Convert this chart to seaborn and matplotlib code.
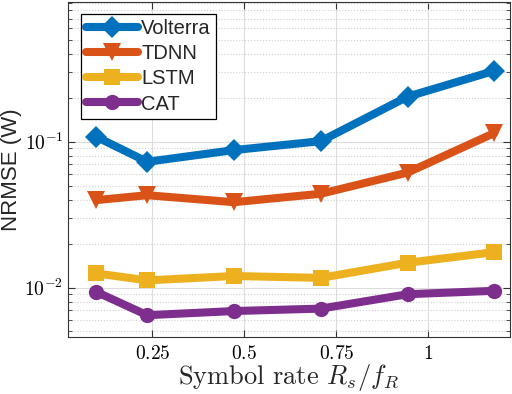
import numpy as np
import pandas as pd
import matplotlib
matplotlib.use("Agg")
import matplotlib.pyplot as plt
import seaborn as sns
from matplotlib.ticker import FixedLocator, FixedFormatter, LogLocator, NullFormatter

# Data
symbol_rate = [0.098, 0.236, 0.472, 0.708, 0.944, 1.18]
volterra = [0.108, 0.0729, 0.0877, 0.101, 0.204, 0.307]
tdnn = [0.0398, 0.0430, 0.0385, 0.0440, 0.0615, 0.115]
lstm = [0.0125, 0.0112, 0.0120, 0.01165, 0.0148, 0.0175]
cat = [0.00933, 0.00646, 0.0069, 0.00717, 0.0090, 0.0095]
models = ["Volterra", "TDNN", "LSTM", "CAT"]
xticks = [0.25, 0.5, 0.75, 1.0]
xtick_labels = ["0.25", "0.5", "0.75", "1"]

colors = {"Volterra": "#0072BD", "TDNN": "#D95319", "LSTM": "#EDB120", "CAT": "#7E2F8E"}
markers = {"Volterra": "D", "TDNN": "v", "LSTM": "s", "CAT": "o"}
msizes = {"Volterra": 11, "TDNN": 13, "LSTM": 11, "CAT": 11}

rows = []
for name, vals in zip(models, [volterra, tdnn, lstm, cat]):
    for x, v in zip(symbol_rate, vals):
        rows.append({"x": x, "y": v, "model": name})
df = pd.DataFrame(rows)

sns.set_style("ticks")
plt.rcParams["mathtext.fontset"] = "cm"
plt.rcParams["font.family"] = ["Liberation Sans", "DejaVu Sans"]

fig = plt.figure(figsize=(5.12, 3.94), dpi=100)
ax = fig.add_axes([0.133, 0.1447, 0.863, 0.8503])

for name in models:
    sub = df[df.model == name]
    sns.lineplot(data=sub, x="x", y="y", ax=ax, color=colors[name], marker=markers[name],
                 markersize=msizes[name], linewidth=5.8, markeredgewidth=0,
                 label=name, estimator=None, sort=False)

ax.set_yscale("log")
ax.set_xlim(0.021, 1.222)
ax.set_ylim(0.00458, 0.91)

ax.xaxis.set_major_locator(FixedLocator(xticks))
ax.xaxis.set_major_formatter(FixedFormatter(["$" + t + "$" for t in xtick_labels]))
ax.yaxis.set_major_locator(FixedLocator([0.01, 0.1]))
ax.yaxis.set_major_formatter(FixedFormatter([r"$10^{-2}$", r"$10^{-1}$"]))
ax.yaxis.set_minor_locator(LogLocator(base=10, subs=np.arange(2, 10), numticks=20))
ax.yaxis.set_minor_formatter(NullFormatter())

ax.tick_params(which="both", direction="in", top=True, right=True, colors="#333333",
               labelcolor="black")
ax.tick_params(which="major", length=5, width=0.8, labelsize=14)
ax.tick_params(which="minor", length=3, width=0.6)
ax.tick_params(axis="x", pad=6)

ax.grid(True, which="major", color="#dcdcdc", linewidth=0.8, linestyle="-")
ax.grid(True, which="minor", axis="y", color="#cfcfcf", linewidth=0.8, linestyle=":")
ax.set_axisbelow(True)
for s in ax.spines.values():
    s.set_color("#333333")
    s.set_linewidth(0.8)

ax.set_xlabel(r"Symbol rate $R_s/f_R$", fontsize=19, labelpad=-1)
ax.xaxis.label.set_fontfamily(["cmr10"])
ax.set_ylabel("NRMSE (W)", fontsize=16, labelpad=2)

leg = ax.legend(loc="upper left", bbox_to_anchor=(0.02, 0.975), fontsize=14.5,
                handlelength=2.6, handletextpad=0.15, borderpad=0.25, labelspacing=0.3,
                frameon=True, fancybox=False, borderaxespad=0.2)
leg.get_frame().set_edgecolor("black")
leg.get_frame().set_linewidth(0.9)
leg.get_frame().set_alpha(1)

fig.savefig("out.png", dpi=100)
